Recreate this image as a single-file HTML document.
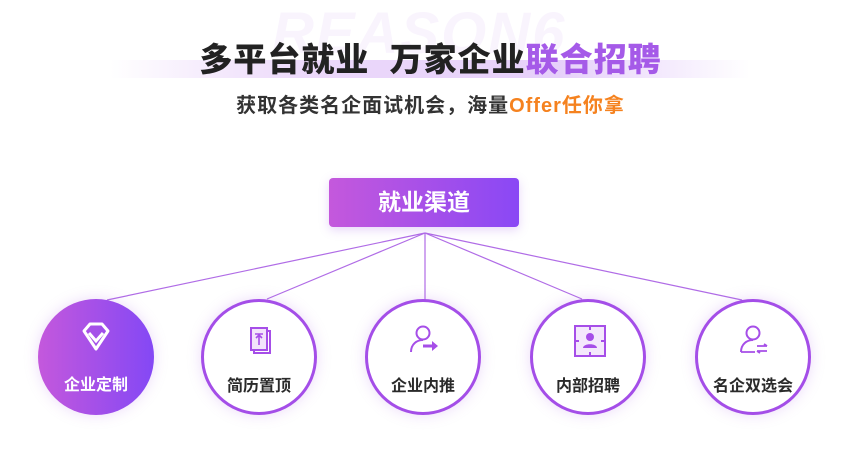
<!DOCTYPE html>
<html><head><meta charset="utf-8"><style>
body{margin:0;width:861px;height:455px;background:#fff;position:relative;overflow:hidden;font-family:"Liberation Sans","Noto Sans CJK SC",sans-serif}
.a{position:absolute}
.wm{left:272px;top:0px;font-size:58px;font-weight:bold;font-style:italic;color:#f9f4fd;letter-spacing:2px}
.band{left:110px;top:60px;width:640px;height:18px;background:linear-gradient(90deg,rgba(240,225,250,0),#ecd9fa 30%,#e6d0fa 70%,rgba(240,225,250,0))}
.t{left:0;width:861px;top:33px;text-align:center;font-size:33px;font-weight:900;color:#222;letter-spacing:1px}
.s{left:0;width:861px;top:89px;text-align:center;font-size:20px;font-weight:bold;color:#333;letter-spacing:1px}
.btn{left:329px;top:178px;width:190px;height:49px;border-radius:4px;background:linear-gradient(90deg,#c458dc,#8a48f5);color:#fff;font-size:23px;font-weight:bold;text-align:center;line-height:49px;box-shadow:0 3px 10px rgba(160,90,230,.25)}
.c{width:110px;height:110px;border-radius:50%;border:3px solid #a44ee8;background:#fff;box-shadow:0 0 14px rgba(180,110,230,.25);text-align:center;box-sizing:content-box}
.c span{position:absolute;left:0;width:100%;top:70px;font-size:16px;font-weight:bold;color:#2a2a2a}
.c svg{position:absolute;left:37px;top:20px}
</style></head><body>
<div class="a wm">REASON6</div>
<div class="a band"></div>
<div class="a t">多平台就业&nbsp;&nbsp;万家企业<span style="color:#a55ae8">联合招聘</span></div>
<div class="a s">获取各类名企面试机会，海量<span style="color:#f5821f">Offer任你拿</span></div>
<svg class="a" style="left:0;top:0" width="861" height="455">
<g stroke="#b06ce6" stroke-width="1.2" fill="none">
<line x1="425" y1="233" x2="107" y2="300"/>
<line x1="425" y1="233" x2="267" y2="299"/>
<line x1="425" y1="233" x2="425" y2="300"/>
<line x1="425" y1="233" x2="582" y2="299"/>
<line x1="425" y1="233" x2="742" y2="300"/>
</g></svg>
<div class="a btn">就业渠道</div>
<div class="a c" style="left:38px;top:299px;width:116px;height:116px;border:0;background:linear-gradient(90deg,#c458dc,#8448f5)">
<svg width="40" height="40" style="left:38px;top:20px" viewBox="0 0 40 40"><path d="M8 12 L14 5 H26 L32 12 L20 30 Z" fill="none" stroke="#fff" stroke-width="3" stroke-linejoin="round"/><path d="M13 14 L20 22 L27 14" fill="none" stroke="#fff" stroke-width="3"/></svg>
<span style="color:#fff;top:72px">企业定制</span></div>
<div class="a c" style="left:201px;top:299px">
<svg width="40" height="40" viewBox="0 0 40 40"><rect x="10" y="6" width="16" height="22" fill="#f2e4fb" stroke="#a64ee8" stroke-width="2"/><path d="M26 9 h3 v22 h-16 v-3" fill="none" stroke="#a64ee8" stroke-width="2"/><path d="M14 12h8M18 12v11M15 16l3-3 3 3" stroke="#a64ee8" stroke-width="1.6" fill="none"/></svg>
<span>简历置顶</span></div>
<div class="a c" style="left:365px;top:299px">
<svg width="40" height="40" viewBox="0 0 40 40"><circle cx="18" cy="11" r="6.5" fill="none" stroke="#a64ee8" stroke-width="2"/><path d="M6 30 C6 22 12 18 18 18" fill="none" stroke="#a64ee8" stroke-width="2"/><path d="M18 24h10" stroke="#a64ee8" stroke-width="3"/><path d="M27 19l6 5-6 5z" fill="#a64ee8"/></svg>
<span>企业内推</span></div>
<div class="a c" style="left:530px;top:299px">
<svg width="40" height="40" viewBox="0 0 40 40"><rect x="5" y="4" width="30" height="30" fill="#f4e8fc" stroke="#a64ee8" stroke-width="2"/><circle cx="20" cy="15" r="4" fill="#a64ee8"/><path d="M13 26c0-5 14-5 14 0z" fill="#a64ee8"/><path d="M5 19h4M31 19h4M20 4v4M20 30v4" stroke="#a64ee8" stroke-width="2"/></svg>
<span>内部招聘</span></div>
<div class="a c" style="left:695px;top:299px">
<svg width="40" height="40" viewBox="0 0 40 40"><circle cx="18" cy="11" r="6.5" fill="none" stroke="#a64ee8" stroke-width="2"/><path d="M6 30 C6 22 12 18 18 18" fill="none" stroke="#a64ee8" stroke-width="2"/><path d="M6 30h14M22 24h10M32 24l-3-2M22 29h10M22 29l3 2" stroke="#a64ee8" stroke-width="1.8" fill="none"/></svg>
<span>名企双选会</span></div>
</body></html>
